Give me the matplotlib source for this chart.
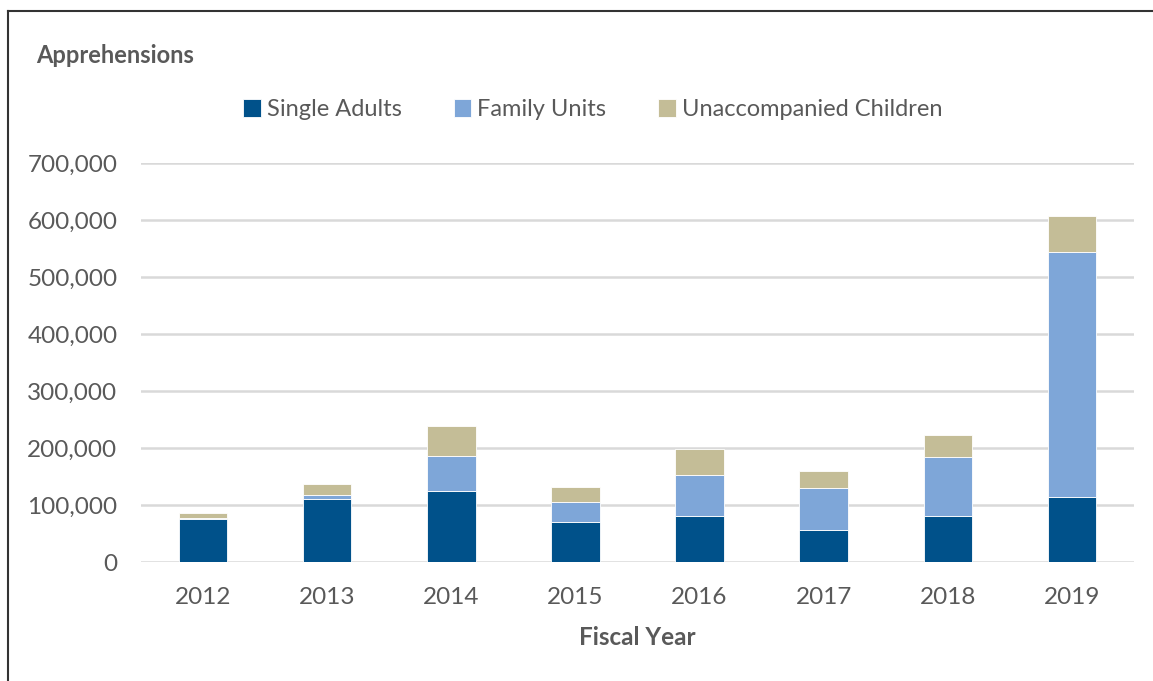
import numpy as np
import matplotlib.pyplot as plt
from matplotlib.lines import Line2D

plt.rcParams['font.family'] = ['Lato', 'DejaVu Sans']

years = ['2012', '2013', '2014', '2015', '2016', '2017', '2018', '2019']
single_adults = [75000, 110000, 124000, 70000, 80000, 57000, 80000, 114000]
family_units = [2000, 7000, 62000, 35000, 72000, 72000, 104000, 430000]
unaccompanied = [9000, 20000, 52000, 27000, 46000, 31000, 38000, 63000]

c_sa = '#00518A'
c_fu = '#7EA6D8'
c_uac = '#C4BD97'
grey = '#595959'

fig = plt.figure(figsize=(11.53, 6.81), dpi=100)
ax = fig.add_axes([0.1223, 0.1747, 0.8612, 0.5859])

x = np.arange(len(years))
sa = np.array(single_adults)
fu = np.array(family_units)
uac = np.array(unaccompanied)
w = 0.39
ax.bar(x, sa, w, color=c_sa, edgecolor='white', linewidth=0.6, label='Single Adults', zorder=3)
ax.bar(x, fu, w, bottom=sa, color=c_fu, edgecolor='white', linewidth=0.6, label='Family Units', zorder=3)
ax.bar(x, uac, w, bottom=sa + fu, color=c_uac, edgecolor='white', linewidth=0.6,
       label='Unaccompanied Children', zorder=3)

ax.set_xlim(-0.5, 7.5)
ax.set_ylim(0, 700000)
ax.set_yticks(np.arange(0, 700001, 100000))
ax.yaxis.set_major_formatter(plt.FuncFormatter(lambda v, p: '{:,.0f}'.format(v)))
ax.set_xticks(x)
ax.set_xticklabels(years)
ax.grid(axis='y', color='#D9D9D9', linewidth=1.8, zorder=0)
ax.set_axisbelow(True)
for s in ax.spines.values():
    s.set_visible(False)
ax.tick_params(axis='both', length=0, labelsize=17.5, labelcolor=grey)
ax.tick_params(axis='y', pad=17)
ax.tick_params(axis='x', pad=18)

ax.set_xlabel('Fiscal Year', fontsize=17.5, fontweight='bold', color=grey, labelpad=13)

fig.text(0.031, 0.919, 'Apprehensions', fontsize=17, fontweight='bold', color=grey,
         ha='left', va='center')

leg = fig.legend(loc='center', bbox_to_anchor=(0.514, 0.839), ncol=3, frameon=False,
                 fontsize=17, handlelength=0.75, handleheight=0.75, handletextpad=0.25,
                 columnspacing=2.2, labelcolor=grey)

# frame around the chart (top and left edges visible)
fig.add_artist(Line2D([0.007, 1.0], [1 - 11 / 681] * 2, color='#333333', linewidth=1.5))
fig.add_artist(Line2D([0.007, 0.007], [0.0, 1 - 11 / 681], color='#333333', linewidth=1.5))

fig.savefig('out.png', dpi=100, facecolor='white')
